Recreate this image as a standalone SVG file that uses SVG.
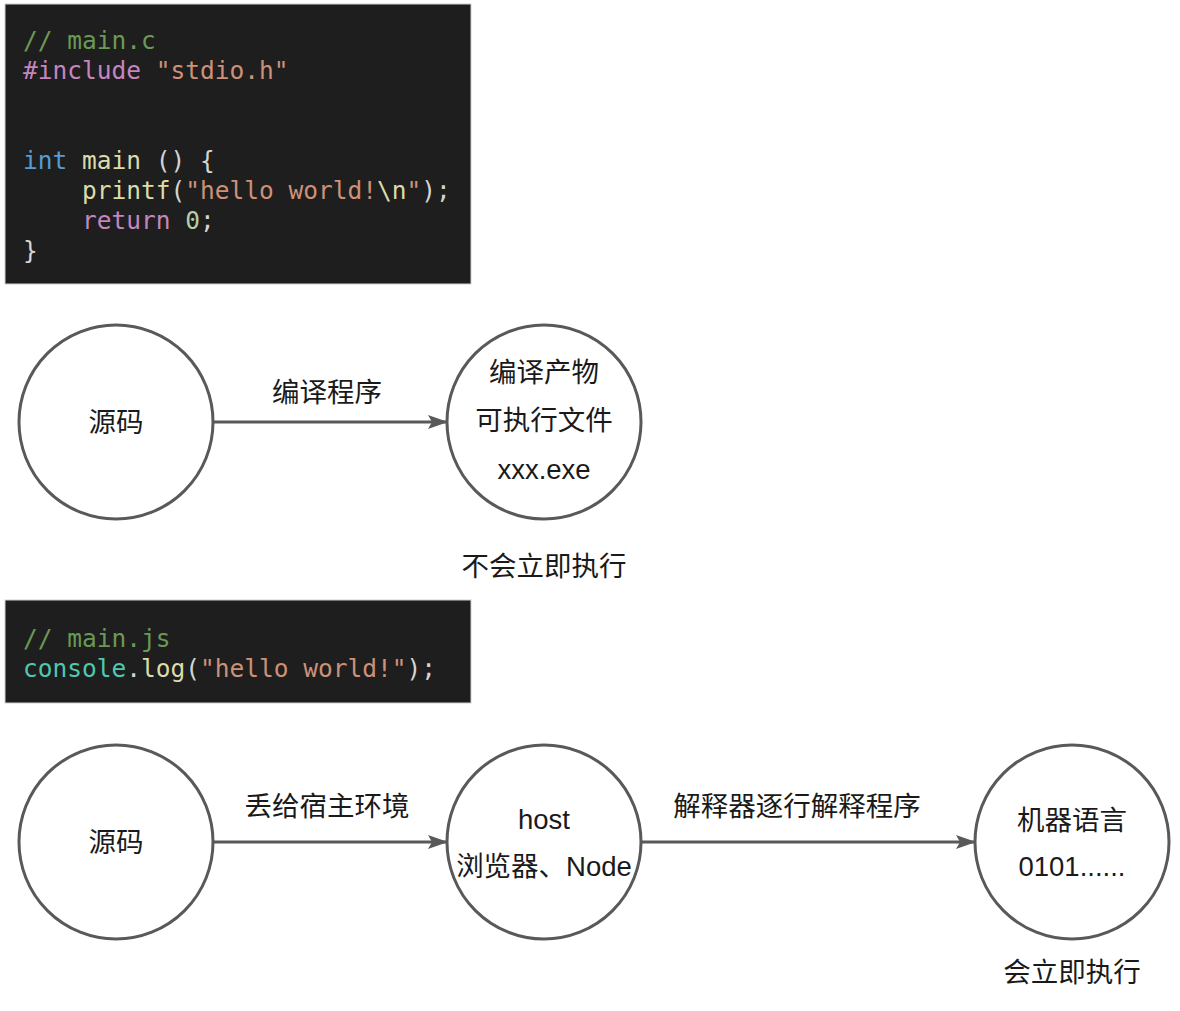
<svg xmlns="http://www.w3.org/2000/svg" width="1180" height="1011" viewBox="0 0 1180 1011">
<style>
.code{fill:#1e1e1e;stroke:#cfcfcf;stroke-width:1}
.mono{font-family:"DejaVu Sans Mono","Liberation Mono",monospace;font-size:24.5px;fill:#d4d4d4;white-space:pre}
.cm{fill:#6a9955}.kw{fill:#c586c0}.str{fill:#ce9178}.ty{fill:#569cd6}.fn{fill:#dcdcaa}.num{fill:#b5cea8}.obj{fill:#4ec9b0}
.node{fill:#ffffff;stroke:#595959;stroke-width:3}
.lbl{font-family:"Liberation Sans","Noto Sans CJK SC",sans-serif;font-size:27.5px;fill:#1a1a1a;text-anchor:middle}
.edge{stroke:#595959;stroke-width:3;fill:none}
</style>
<defs>
<marker id="arr" viewBox="0 0 20 14" refX="18" refY="7" markerWidth="20" markerHeight="14" markerUnits="userSpaceOnUse" orient="auto">
<path d="M0,0 L20,7 L0,14 L4,7 z" fill="#595959"/>
</marker>
</defs>
<rect width="1180" height="1011" fill="#ffffff"/>
<g id="code-c">
<rect class="code" x="5" y="4" width="466" height="280"/>
<text class="mono" x="23" y="49"><tspan class="cm">// main.c</tspan></text>
<text class="mono" x="23" y="79"><tspan class="kw">#include</tspan> <tspan class="str">"stdio.h"</tspan></text>
<text class="mono" x="23" y="169"><tspan class="ty">int</tspan> <tspan class="fn">main</tspan> () {</text>
<text class="mono" x="23" y="199">    <tspan class="fn">printf</tspan>(<tspan class="str">"hello world!</tspan><tspan class="fn">\n</tspan><tspan class="str">"</tspan>);</text>
<text class="mono" x="23" y="229">    <tspan class="kw">return</tspan> <tspan class="num">0</tspan>;</text>
<text class="mono" x="23" y="259">}</text>
</g>
<g id="code-js">
<rect class="code" x="5" y="600" width="466" height="103"/>
<text class="mono" x="23" y="647"><tspan class="cm">// main.js</tspan></text>
<text class="mono" x="23" y="677"><tspan class="obj">console</tspan>.<tspan class="fn">log</tspan>(<tspan class="str">"hello world!"</tspan>);</text>
</g>
<g id="connectors">
<line class="edge" x1="213" y1="422" x2="446" y2="422" marker-end="url(#arr)"/>
<line class="edge" x1="213" y1="842" x2="446" y2="842" marker-end="url(#arr)"/>
<line class="edge" x1="642" y1="842" x2="974" y2="842" marker-end="url(#arr)"/>
<text class="lbl" x="327" y="402">编译程序</text>
<text class="lbl" x="327" y="816">丢给宿主环境</text>
<text class="lbl" x="797" y="816">解释器逐行解释程序</text>
</g>
<g id="n-src1">
<circle class="node" cx="116" cy="422" r="97"/>
<text class="lbl" x="116" y="432">源码</text>
</g>
<g id="n-exe">
<circle class="node" cx="544" cy="422" r="97"/>
<text class="lbl" x="544" y="382">编译产物</text>
<text class="lbl" x="544" y="430">可执行文件</text>
<text class="lbl" x="544" y="479">xxx.exe</text>
</g>
<g id="note1"><text class="lbl" x="544" y="576">不会立即执行</text></g>
<g id="n-src2">
<circle class="node" cx="116" cy="842" r="97"/>
<text class="lbl" x="116" y="852">源码</text>
</g>
<g id="n-host">
<circle class="node" cx="544" cy="842" r="97"/>
<text class="lbl" x="544" y="829">host</text>
<text class="lbl" x="544" y="876">浏览器、Node</text>
</g>
<g id="n-machine">
<circle class="node" cx="1072" cy="842" r="97"/>
<text class="lbl" x="1072" y="830">机器语言</text>
<text class="lbl" x="1072" y="876">0101......</text>
</g>
<g id="note2"><text class="lbl" x="1072" y="982">会立即执行</text></g>
</svg>
